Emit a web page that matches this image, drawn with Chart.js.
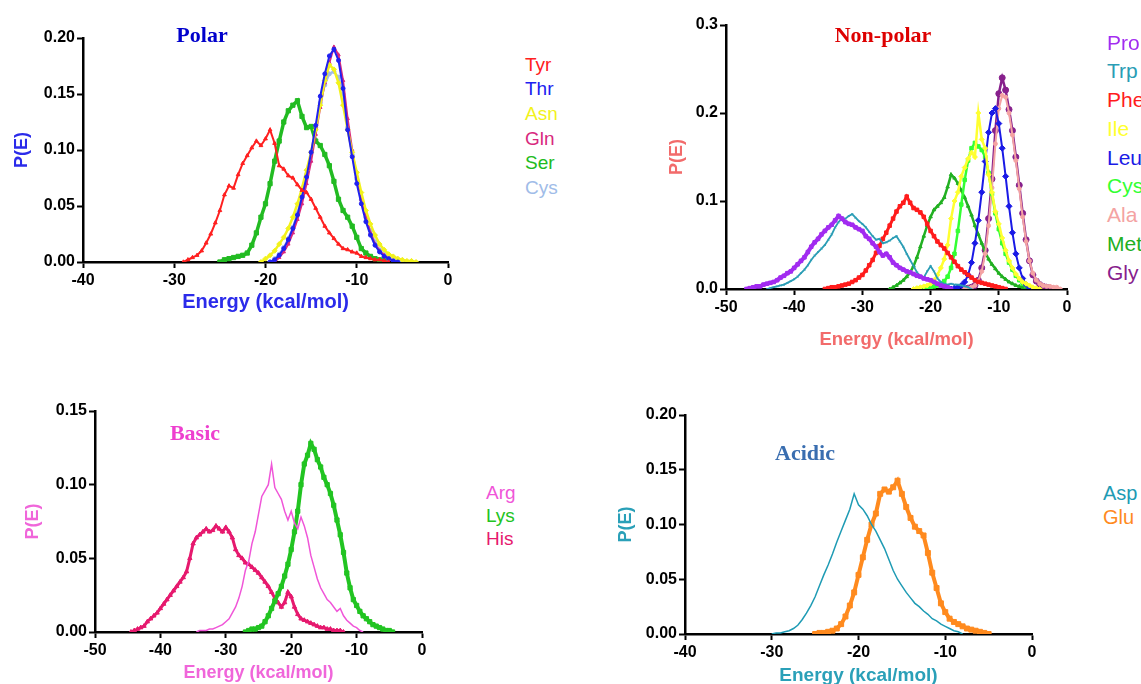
<!DOCTYPE html>
<html>
<head>
<meta charset="utf-8">
<title>P(E) by residue class</title>
<script src="https://cdn.jsdelivr.net/npm/chart.js@4.4.1/dist/chart.umd.min.js"></script>
<style>
  html, body { margin: 0; padding: 0; background: #fff; width: 1141px; height: 684px; overflow: hidden; }
  body { position: relative; }
  .panel { position: absolute; }
  .title { position: absolute; font-family: "Liberation Serif", "Times New Roman", serif; font-weight: bold; transform: translate(-50%, -50%); white-space: nowrap; }
  .legend { position: absolute; font-family: "Liberation Sans", Arial, sans-serif; white-space: nowrap; }
</style>
</head>
<body>
<div class="panel" style="left:0;top:0;width:470px;height:320px"><canvas id="polar"></canvas></div>
<div class="panel" style="left:640px;top:0;width:450px;height:360px"><canvas id="nonpolar"></canvas></div>
<div class="panel" style="left:0;top:360px;width:450px;height:330px"><canvas id="basic"></canvas></div>
<div class="panel" style="left:600px;top:360px;width:460px;height:330px"><canvas id="acidic"></canvas></div>

<script>
// ---- energy grids (kcal/mol), one per panel ----
const polarEnergy = [-29,-28.5,-28,-27.5,-27,-26.5,-26,-25.5,-25,-24.5,-24,-23.5,-23,-22.5,-22,-21.5,-21,-20.5,-20,-19.5,-19,-18.5,-18,-17.5,-17,-16.5,-16,-15.5,-15,-14.5,-14,-13.5,-13,-12.5,-12,-11.5,-11,-10.5,-10,-9.5,-9,-8.5,-8,-7.5,-7,-6.5,-6,-5.5,-5,-4.5,-4,-3.5];
const nonPolarEnergy = [-47,-46.5,-46,-45.5,-45,-44.5,-44,-43.5,-43,-42.5,-42,-41.5,-41,-40.5,-40,-39.5,-39,-38.5,-38,-37.5,-37,-36.5,-36,-35.5,-35,-34.5,-34,-33.5,-33,-32.5,-32,-31.5,-31,-30.5,-30,-29.5,-29,-28.5,-28,-27.5,-27,-26.5,-26,-25.5,-25,-24.5,-24,-23.5,-23,-22.5,-22,-21.5,-21,-20.5,-20,-19.5,-19,-18.5,-18,-17.5,-17,-16.5,-16,-15.5,-15,-14.5,-14,-13.5,-13,-12.5,-12,-11.5,-11,-10.5,-10,-9.5,-9,-8.5,-8,-7.5,-7,-6.5,-6,-5.5,-5,-4.5,-4,-3.5,-3,-2.5,-2,-1.5,-1];
const basicEnergy = [-44.5,-44,-43.5,-43,-42.5,-42,-41.5,-41,-40.5,-40,-39.5,-39,-38.5,-38,-37.5,-37,-36.5,-36,-35.5,-35,-34.5,-34,-33.5,-33,-32.5,-32,-31.5,-31,-30.5,-30,-29.5,-29,-28.5,-28,-27.5,-27,-26.5,-26,-25.5,-25,-24.5,-24,-23.5,-23,-22.5,-22,-21.5,-21,-20.5,-20,-19.5,-19,-18.5,-18,-17.5,-17,-16.5,-16,-15.5,-15,-14.5,-14,-13.5,-13,-12.5,-12,-11.5,-11,-10.5,-10,-9.5,-9,-8.5,-8,-7.5,-7,-6.5,-6,-5.5,-5,-4.5];
const acidicEnergy = [-30,-29.5,-29,-28.5,-28,-27.5,-27,-26.5,-26,-25.5,-25,-24.5,-24,-23.5,-23,-22.5,-22,-21.5,-21,-20.5,-20,-19.5,-19,-18.5,-18,-17.5,-17,-16.5,-16,-15.5,-15,-14.5,-14,-13.5,-13,-12.5,-12,-11.5,-11,-10.5,-10,-9.5,-9,-8.5,-8,-7.5,-7,-6.5,-6,-5.5,-5];

// ---- tick labels ----
const polarXTicks = ['-40', '-30', '-20', '-10', '0'];
const polarYTicks = ['0.00', '0.05', '0.10', '0.15', '0.20'];
const nonPolarXTicks = ['-50', '-40', '-30', '-20', '-10', '0'];
const nonPolarYTicks = ['0.0', '0.1', '0.2', '0.3'];
const basicXTicks = ['-50', '-40', '-30', '-20', '-10', '0'];
const basicYTicks = ['0.00', '0.05', '0.10', '0.15'];
const acidicXTicks = ['-40', '-30', '-20', '-10', '0'];
const acidicYTicks = ['0.00', '0.05', '0.10', '0.15', '0.20'];

// ---- Polar: P(E) values, each starting at the given energy ----
const tyrFrom = -29;
const tyr = [0.000,0.002,0.004,0.006,0.010,0.017,0.025,0.035,0.046,0.060,0.068,0.066,0.078,0.088,0.095,0.102,0.108,0.104,0.110,0.118,0.106,0.086,0.083,0.077,0.075,0.069,0.064,0.062,0.056,0.048,0.040,0.032,0.026,0.021,0.016,0.012,0.011,0.009,0.008,0.005,0.004,0.003,0.002,0.002,0.001,0.000];
const thrFrom = -19.5;
const thr = [0.000,0.002,0.006,0.012,0.020,0.030,0.042,0.058,0.076,0.098,0.122,0.148,0.168,0.184,0.190,0.180,0.155,0.118,0.094,0.070,0.052,0.036,0.024,0.015,0.009,0.005,0.003,0.001,0.000];
const asnFrom = -20.5;
const asn = [0.000,0.003,0.006,0.010,0.016,0.022,0.030,0.040,0.052,0.066,0.082,0.098,0.118,0.140,0.162,0.176,0.172,0.160,0.140,0.118,0.098,0.080,0.062,0.046,0.034,0.024,0.016,0.011,0.007,0.005,0.003,0.002,0.001,0.001,0.000];
const glnFrom = -19;
const gln = [0.000,0.004,0.009,0.016,0.026,0.038,0.052,0.070,0.090,0.114,0.138,0.160,0.178,0.192,0.185,0.162,0.128,0.100,0.076,0.056,0.040,0.026,0.016,0.010,0.006,0.003,0.001,0.000];
const serFrom = -25;
const ser = [0.000,0.002,0.003,0.004,0.005,0.006,0.008,0.015,0.026,0.040,0.052,0.070,0.090,0.108,0.125,0.135,0.140,0.144,0.130,0.120,0.121,0.108,0.104,0.096,0.086,0.072,0.056,0.046,0.040,0.032,0.022,0.012,0.008,0.005,0.003,0.002,0.001];
const cysFrom = -19.5;
const cys = [0.000,0.003,0.007,0.013,0.021,0.031,0.044,0.060,0.078,0.098,0.120,0.142,0.158,0.168,0.170,0.165,0.150,0.120,0.096,0.074,0.056,0.040,0.028,0.018,0.011,0.007,0.004,0.002,0.001,0.000];

// ---- Non-polar ----
const proFrom = -47;
const pro = [0.000,0.001,0.002,0.003,0.003,0.005,0.006,0.007,0.008,0.010,0.013,0.015,0.018,0.020,0.024,0.028,0.032,0.036,0.042,0.048,0.053,0.057,0.062,0.066,0.070,0.073,0.078,0.083,0.080,0.076,0.074,0.073,0.070,0.068,0.066,0.060,0.057,0.052,0.048,0.042,0.038,0.040,0.036,0.030,0.027,0.024,0.022,0.020,0.019,0.017,0.015,0.014,0.012,0.011,0.010,0.008,0.006,0.004,0.003,0.002,0.000];
const trpFrom = -44;
const trp = [0.000,0.001,0.002,0.003,0.004,0.005,0.007,0.009,0.011,0.014,0.018,0.022,0.027,0.033,0.038,0.042,0.046,0.050,0.056,0.062,0.070,0.076,0.080,0.080,0.083,0.085,0.081,0.077,0.074,0.070,0.065,0.060,0.056,0.057,0.052,0.053,0.055,0.058,0.060,0.054,0.048,0.040,0.033,0.026,0.019,0.015,0.013,0.020,0.026,0.020,0.012,0.008,0.006,0.005,0.006,0.005,0.005,0.004,0.003,0.002,0.000];
const pheFrom = -35.5;
const phe = [0.000,0.001,0.002,0.002,0.003,0.004,0.005,0.006,0.008,0.010,0.013,0.016,0.021,0.027,0.033,0.041,0.049,0.057,0.064,0.072,0.080,0.088,0.094,0.098,0.105,0.098,0.092,0.090,0.087,0.082,0.074,0.066,0.060,0.054,0.050,0.046,0.041,0.036,0.031,0.026,0.022,0.019,0.016,0.013,0.010,0.008,0.007,0.006,0.005,0.004,0.003,0.002,0.001,0.000];
const ileFrom = -22.5;
const ile = [0.000,0.001,0.002,0.003,0.004,0.006,0.010,0.016,0.024,0.034,0.050,0.080,0.100,0.110,0.128,0.138,0.148,0.155,0.150,0.200,0.170,0.160,0.130,0.110,0.088,0.074,0.058,0.044,0.032,0.024,0.017,0.012,0.008,0.006,0.004,0.002,0.001,0.000];
const leuFrom = -17;
const leu = [0.000,0.001,0.002,0.004,0.008,0.016,0.030,0.052,0.078,0.110,0.145,0.178,0.200,0.205,0.188,0.160,0.128,0.094,0.064,0.040,0.024,0.012,0.005,0.000];
const cysNpFrom = -22;
const cysNp = [0.000,0.001,0.001,0.002,0.002,0.003,0.004,0.006,0.009,0.014,0.024,0.040,0.066,0.096,0.124,0.146,0.160,0.166,0.162,0.158,0.150,0.132,0.108,0.086,0.068,0.052,0.040,0.030,0.022,0.015,0.010,0.006,0.004,0.002,0.000];
const alaFrom = -15;
const ala = [0.000,0.001,0.002,0.004,0.009,0.020,0.040,0.072,0.115,0.165,0.205,0.220,0.218,0.200,0.175,0.146,0.114,0.082,0.054,0.032,0.018,0.010,0.006,0.004,0.003,0.003,0.002,0.002,0.000];
const metFrom = -26;
const met = [0.000,0.002,0.004,0.007,0.010,0.014,0.019,0.026,0.036,0.048,0.060,0.072,0.082,0.090,0.094,0.098,0.104,0.116,0.130,0.126,0.120,0.112,0.104,0.094,0.084,0.072,0.062,0.052,0.042,0.034,0.028,0.023,0.018,0.014,0.011,0.008,0.006,0.004,0.003,0.002,0.001,0.001,0.000];
const glyFrom = -15;
const gly = [0.000,0.001,0.002,0.004,0.010,0.024,0.044,0.080,0.125,0.180,0.222,0.240,0.226,0.204,0.180,0.150,0.118,0.086,0.056,0.032,0.016,0.009,0.005,0.003,0.002,0.001,0.000];

// ---- Basic ----
const argFrom = -34.5;
const arg = [0.000,0.001,0.001,0.001,0.002,0.002,0.003,0.004,0.005,0.007,0.009,0.013,0.017,0.023,0.031,0.042,0.048,0.060,0.068,0.080,0.092,0.096,0.100,0.114,0.098,0.094,0.090,0.082,0.076,0.082,0.074,0.070,0.078,0.072,0.064,0.052,0.044,0.036,0.030,0.026,0.022,0.020,0.017,0.014,0.016,0.011,0.008,0.006,0.004,0.003,0.001,0.000];
const lysFrom = -27;
const lys = [0.000,0.001,0.002,0.002,0.003,0.004,0.007,0.011,0.016,0.021,0.026,0.031,0.038,0.046,0.056,0.068,0.082,0.100,0.114,0.120,0.128,0.124,0.117,0.112,0.105,0.100,0.094,0.086,0.076,0.066,0.054,0.040,0.030,0.022,0.018,0.014,0.011,0.009,0.007,0.005,0.004,0.003,0.002,0.001,0.001,0.000];
const hisFrom = -44.5;
const his = [0.000,0.001,0.002,0.003,0.004,0.007,0.009,0.011,0.013,0.016,0.019,0.022,0.025,0.028,0.031,0.034,0.037,0.041,0.050,0.060,0.064,0.066,0.068,0.070,0.068,0.069,0.072,0.070,0.068,0.071,0.068,0.064,0.056,0.052,0.050,0.047,0.046,0.044,0.042,0.040,0.037,0.034,0.031,0.027,0.023,0.020,0.017,0.020,0.027,0.024,0.017,0.012,0.009,0.008,0.007,0.006,0.005,0.004,0.003,0.003,0.002,0.002,0.001,0.001,0.001,0.000];

// ---- Acidic ----
const aspFrom = -30;
const asp = [0.000,0.001,0.001,0.002,0.003,0.005,0.008,0.013,0.019,0.026,0.034,0.044,0.054,0.063,0.073,0.084,0.094,0.104,0.114,0.128,0.118,0.114,0.108,0.100,0.094,0.086,0.078,0.068,0.058,0.050,0.044,0.038,0.033,0.028,0.025,0.021,0.018,0.014,0.012,0.009,0.007,0.005,0.003,0.002,0.000];
const gluFrom = -25;
const glu = [0.000,0.001,0.001,0.002,0.003,0.005,0.009,0.016,0.026,0.038,0.054,0.070,0.086,0.100,0.110,0.128,0.132,0.130,0.134,0.140,0.128,0.116,0.106,0.098,0.094,0.090,0.074,0.056,0.042,0.028,0.020,0.014,0.011,0.009,0.007,0.005,0.004,0.003,0.002,0.001,0.000];

Chart.defaults.font.family = '"Liberation Sans", Arial, sans-serif';
Chart.defaults.animation = false;

// line through the values, placed on the panel's energy grid
function series(label, grid, from, values, color, width, radius, marker) {
  const start = grid.indexOf(from);
  const data = [];
  values.forEach(function (v, i) {
    if (grid[start + i] !== undefined) data.push({ x: grid[start + i], y: v });
  });
  return {
    label: label,
    data: data,
    borderColor: color,
    backgroundColor: color,
    pointBackgroundColor: color,
    pointBorderColor: color,
    borderWidth: width,
    pointRadius: radius,
    pointBorderWidth: 1,
    pointStyle: marker,
    tension: 0,
    fill: false
  };
}

function makePanel(id, p) {
  const axisFont = { weight: 'bold', size: 16 };
  return new Chart(document.getElementById(id), {
    type: 'line',
    data: { datasets: p.datasets },
    options: {
      responsive: true,
      maintainAspectRatio: false,
      layout: { padding: { top: p.padTop, right: p.padRight, left: 0, bottom: 0 } },
      plugins: { legend: { display: false }, tooltip: { enabled: false } },
      scales: {
        x: {
          type: 'linear',
          min: p.xMin, max: 0,
          grid: { drawOnChartArea: false, drawTicks: true, tickLength: 6, tickWidth: 2, tickColor: '#000' },
          border: { display: true, color: '#000', width: 2.5 },
          ticks: {
            stepSize: 10, autoSkip: false, maxRotation: 0, padding: 3,
            color: '#000', font: axisFont,
            callback: function (v, i) { return p.xTicks[i]; }
          },
          title: {
            display: true, text: 'Energy (kcal/mol)', color: p.axisColor,
            font: { weight: 'bold', size: p.xTitleSize },
            padding: { top: 0, bottom: p.xTitlePad }
          },
          afterFit: function (scale) { scale.height = p.xHeight; }
        },
        y: {
          type: 'linear',
          min: 0, max: p.yMax,
          grid: { drawOnChartArea: false, drawTicks: true, tickLength: 6, tickWidth: 2, tickColor: '#000' },
          border: { display: true, color: '#000', width: 2.5 },
          ticks: {
            stepSize: p.yStep, autoSkip: false, padding: 2,
            color: '#000', font: axisFont,
            callback: function (v, i) { return p.yTicks[i]; }
          },
          title: {
            display: true, text: 'P(E)', color: p.axisColor,
            font: { weight: 'bold', size: 18 },
            padding: { top: p.yTitlePad, bottom: 0 }
          },
          afterFit: function (scale) { scale.width = p.yWidth; }
        }
      }
    }
  });
}

function addText(cls, text, x, y, size, color) {
  const el = document.createElement('div');
  el.className = cls;
  el.textContent = text;
  el.style.left = x + 'px';
  el.style.top = y + 'px';
  el.style.fontSize = size + 'px';
  el.style.color = color;
  document.body.appendChild(el);
  return el;
}

function addLegend(datasets, x, top, size, step) {
  datasets.forEach(function (d, i) {
    const el = addText('legend', d.label, x, top + i * step, size, d.borderColor);
    el.style.lineHeight = step + 'px';
  });
}

// ---- Polar ----
const polarSets = [
  series('Tyr', polarEnergy, tyrFrom, tyr, '#ff2020', 2, 2.2, 'triangle'),
  series('Thr', polarEnergy, thrFrom, thr, '#2020f0', 2, 2, 'circle'),
  series('Asn', polarEnergy, asnFrom, asn, '#f2f21c', 2.5, 2.5, 'rectRot'),
  series('Gln', polarEnergy, glnFrom, gln, '#d8287e', 2, 2, 'triangle'),
  series('Ser', polarEnergy, serFrom, ser, '#22bb22', 3.5, 3, 'rect'),
  series('Cys', polarEnergy, cysFrom, cys, '#a0bce8', 2, 2, 'circle')
];
makePanel('polar', {
  datasets: polarSets, xMin: -40, xTicks: polarXTicks, yMax: 0.2, yStep: 0.05, yTicks: polarYTicks,
  padTop: 38, padRight: 22, yWidth: 83, xHeight: 58, yTitlePad: 11, xTitlePad: 6, xTitleSize: 20,
  axisColor: '#2b2bea'
});
addText('title', 'Polar', 202, 35, 22, '#0000cc');
addLegend(polarSets, 525, 52.7, 19, 24.6);

// ---- Non-polar ----
const nonPolarSets = [
  series('Pro', nonPolarEnergy, proFrom, pro, '#a22cf0', 4, 2.5, 'rect'),
  series('Trp', nonPolarEnergy, trpFrom, trp, '#2a9db5', 1.8, 1.2, 'crossRot'),
  series('Phe', nonPolarEnergy, pheFrom, phe, '#ff1c1c', 3, 2.5, 'rect'),
  series('Ile', nonPolarEnergy, ileFrom, ile, '#ffff30', 2.5, 2.5, 'rectRot'),
  series('Leu', nonPolarEnergy, leuFrom, leu, '#1a1ae6', 2, 3, 'rectRot'),
  series('Cys', nonPolarEnergy, cysNpFrom, cysNp, '#33ff33', 2.5, 2.5, 'rect'),
  series('Ala', nonPolarEnergy, alaFrom, ala, '#f4a3a3', 2, 2, 'circle'),
  series('Met', nonPolarEnergy, metFrom, met, '#22b022', 2.5, 2, 'triangle'),
  series('Gly', nonPolarEnergy, glyFrom, gly, '#87208c', 2.5, 3, 'circle')
];
makePanel('nonpolar', {
  datasets: nonPolarSets, xMin: -50, xTicks: nonPolarXTicks, yMax: 0.3, yStep: 0.1, yTicks: nonPolarYTicks,
  padTop: 25, padRight: 23, yWidth: 86, xHeight: 71, yTitlePad: 26, xTitlePad: 9, xTitleSize: 18.5,
  axisColor: '#f26b6b'
});
addText('title', 'Non-polar', 883, 35, 22, '#dd0000');
addLegend(nonPolarSets, 1107, 28.6, 21, 28.75);

// ---- Basic ----
const basicSets = [
  series('Arg', basicEnergy, argFrom, arg, '#f055d8', 1.5, 0, 'circle'),
  series('Lys', basicEnergy, lysFrom, lys, '#22c422', 4, 3, 'rect'),
  series('His', basicEnergy, hisFrom, his, '#e6196e', 3, 2.5, 'triangle')
];
makePanel('basic', {
  datasets: basicSets, xMin: -50, xTicks: basicXTicks, yMax: 0.15, yStep: 0.05, yTicks: basicYTicks,
  padTop: 51, padRight: 28, yWidth: 95, xHeight: 58, yTitlePad: 22, xTitlePad: 6, xTitleSize: 18,
  axisColor: '#f066da'
});
addText('title', 'Basic', 195, 433, 22, '#ee3fcf');
addLegend(basicSets, 486, 480.5, 19, 23);

// ---- Acidic ----
const acidicSets = [
  series('Asp', acidicEnergy, aspFrom, asp, '#1e9bb4', 1.5, 0, 'circle'),
  series('Glu', acidicEnergy, gluFrom, glu, '#ff8a1e', 4, 3.5, 'rect')
];
makePanel('acidic', {
  datasets: acidicSets, xMin: -40, xTicks: acidicXTicks, yMax: 0.2, yStep: 0.05, yTicks: acidicYTicks,
  padTop: 55, padRight: 28, yWidth: 85, xHeight: 56, yTitlePad: 15, xTitlePad: 3, xTitleSize: 19,
  axisColor: '#2aa0b8'
});
addText('title', 'Acidic', 805, 453, 22, '#3a6eb0');
addLegend(acidicSets, 1103, 481, 20, 24);
</script>
</body>
</html>
